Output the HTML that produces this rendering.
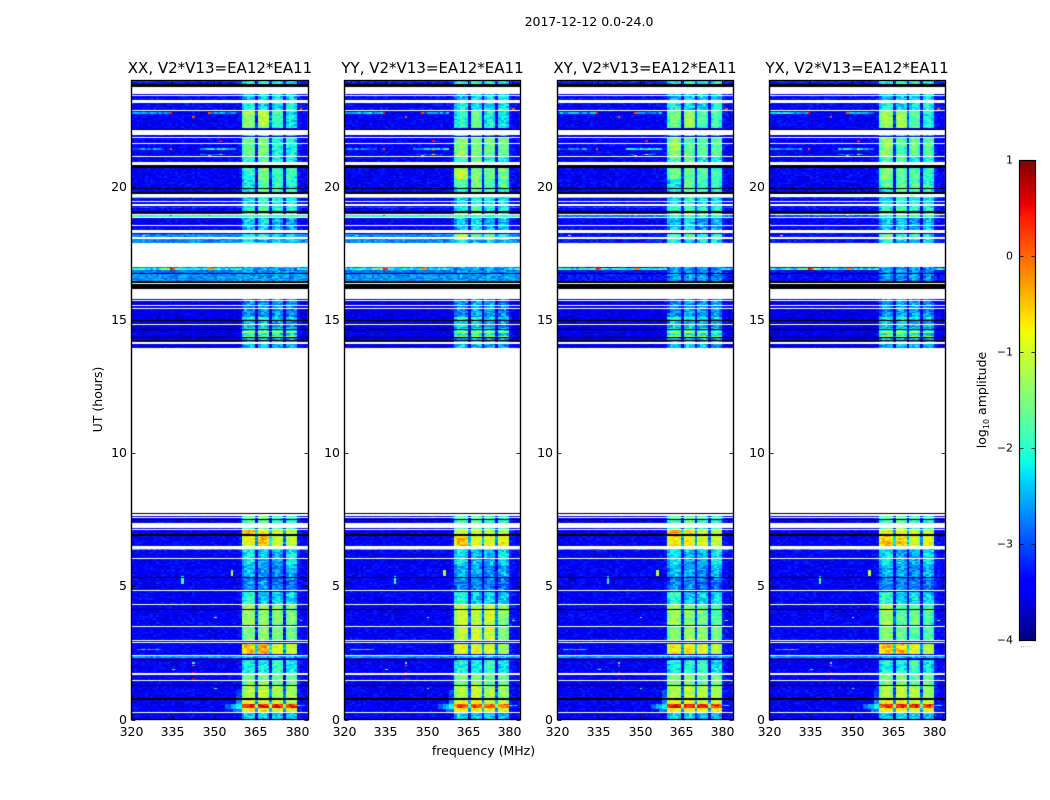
<!DOCTYPE html>
<html>
<head>
<meta charset="utf-8">
<title>2017-12-12 0.0-24.0</title>
<style>
html,body{margin:0;padding:0;background:#fff;width:1050px;height:800px;overflow:hidden}
#stage{position:relative;width:1050px;height:800px;background:#fff}
canvas{position:absolute;display:block}
svg{position:absolute;left:0;top:0}
text{font-family:"DejaVu Sans","Liberation Sans",sans-serif;fill:#000}
</style>
</head>
<body>
<div id="stage">
<svg id="overlay" width="1050" height="800" viewBox="0 0 1050 800">
  <defs><linearGradient id="jet-gradient" x1="0" y1="1" x2="0" y2="0"></linearGradient></defs>
  <text x="589" y="26" font-size="12.5" text-anchor="middle">2017-12-12 0.0-24.0</text>
  <text x="483.5" y="755" font-size="12.5" text-anchor="middle">frequency (MHz)</text>
  <text x="0" y="0" font-size="12.5" text-anchor="middle" transform="translate(102,399.5) rotate(-90)">UT (hours)</text>
  <text x="0" y="0" font-size="12.5" text-anchor="middle" transform="translate(986,400) rotate(-90)">log<tspan font-size="8" dy="3">10</tspan><tspan dy="-3"> amplitude</tspan></text>
  <text x="1026.5" y="647" font-size="6" fill="#888" style="fill:#888" text-anchor="middle">......</text>
</svg>
</div>
<script>
// Panel titles and tick labels
var panelTitles = ["XX, V2*V13=EA12*EA11","YY, V2*V13=EA12*EA11","XY, V2*V13=EA12*EA11","YX, V2*V13=EA12*EA11"];
var frequencyTicks = [320,335,350,365,380];
var hourTicks = [0,5,10,15,20];
var colorbarTicks = [1,0,-1,-2,-3,-4];
var colorbarLabels = ["1","0","\u22121","\u22122","\u22123","\u22124"];

// Rows with no data, in UT hours [low, high]
var blankHours = [[23.49,23.77],[23.41,23.46],[23.17,23.25],[22.87,22.91],[21.97,22.13],[21.83,21.88],[21.63,21.67],[21.11,21.15],[20.81,20.93],[19.62,19.72],[19.42,19.47],[19.27,19.38],[18.97,19.0],[18.84,18.87],[18.55,18.59],[18.27,18.37],[18.06,18.12],[16.99,17.89],[16.34,16.41],[15.80,16.16],[15.74,15.76],[15.52,15.57],[15.44,15.47],[14.84,14.86],[14.12,14.17],[7.74,13.96],[7.65,7.70],[7.58,7.62],[7.19,7.39],[7.12,7.16],[6.42,6.50],[6.03,6.07],[4.81,4.85],[4.31,4.35],[3.49,3.53],[2.97,3.0],[2.87,2.90],[2.39,2.44],[1.69,1.73],[1.46,1.50],[0.23,0.27]];
// Fully flagged rows, in UT hours [low, high]
var flaggedHours = [[23.77,23.85],[22.13,22.19],[20.73,20.81],[19.94,19.98],[19.72,19.81],[19.04,19.08],[16.73,16.77],[16.41,16.46],[16.16,16.34],[14.99,15.01],[14.66,14.68],[14.33,14.37],[14.24,14.27],[7.70,7.74],[7.49,7.53],[6.91,6.95],[5.33,5.37],[4.12,4.16],[2.23,2.29],[1.28,1.31],[0.75,0.79]];

// Off-band log10 amplitude by time [low, high, level]
var defaultBackground = -3.45;
var backgroundLevels = [[23.85,24,-3.3],[22.87,23.41,-3.4],[20.3,20.73,-3.45],[19.62,19.72,-2.0],[19.38,19.42,-1.9],[19.2,19.27,-3.0],[18.87,18.97,-1.9],[17.89,18.27,-2.7],[16.77,16.99,-2.8],[16.46,16.73,-2.65],[14.0,15.8,-3.55],[6.35,6.42,-2.5],[2.29,2.39,-2.6]];
var quietBackgroundXY = [[17.89,18.27,-3.3],[16.46,16.99,-3.3],[18.87,18.97,-2.8]];
var quietBackgroundYX = [[17.89,18.27,-3.35],[16.46,16.99,-3.35],[18.87,18.97,-3.0],[19.38,19.42,-3.0],[19.62,19.72,-3.0],[19.2,19.27,-3.3]];

// In-band log10 amplitude for the four spectral windows [low, high, w1, w2, w3, w4]
var bandLevelsXX = [[23.85,24,-2.2,-2.0,-2.1,-2.2],[23.25,23.5,-2.5,-2.3,-2.3,-2.3],[22.91,23.2,-2.1,-2.3,-2.3,-2.1],[22.19,22.87,-1.4,-1.15,-1.9,-2.2],[21.9,22.13,-2.1,-2.0,-2.3,-2.4],[21.15,21.85,-1.65,-1.5,-2.1,-2.1],[20.81,21.15,-1.9,-1.7,-2.2,-2.1],[20.3,20.73,-2.0,-1.5,-1.9,-1.9],[19.72,20.3,-2.2,-1.7,-1.9,-2.0],[19.27,19.72,-2.3,-2.0,-2.2,-2.2],[18.95,19.27,-2.0,-1.7,-2.0,-2.0],[18.85,18.95,-1.9,-1.8,-1.9,-1.9],[18.37,18.85,-2.4,-2.3,-2.6,-2.5],[18.0,18.27,-2.0,-2.0,-2.2,-2.2],[17.89,18.0,-2.1,-2.5,-2.4,-2.4],[16.2,16.99,-2.6,-2.6,-2.6,-2.7],[15.1,15.8,-2.7,-2.6,-2.6,-2.7],[15.03,15.1,-1.9,-1.9,-2.2,-2.2],[14.72,15.03,-2.4,-2.4,-2.6,-2.6],[14.6,14.72,-2.1,-2.1,-2.2,-2.3],[14.52,14.6,-1.3,-1.2,-1.3,-1.6],[14.4,14.52,-2.1,-2.1,-2.2,-2.3],[14.35,14.4,-1.2,-1.2,-1.1,-1.2],[13.96,14.33,-2.5,-2.4,-2.5,-2.6],[7.12,7.74,-1.8,-1.7,-2.0,-2.0],[6.95,7.12,-0.4,-0.7,-1.0,-1.1],[6.5,6.91,-0.8,-0.5,-1.1,-1.1],[6.35,6.5,-2.0,-2.0,-2.0,-2.0],[5.8,6.35,-2.2,-2.5,-2.5,-2.2],[5.37,5.8,-2.5,-2.6,-2.7,-2.5],[4.85,5.33,-2.7,-2.7,-2.8,-2.8],[4.35,4.81,-2.0,-2.4,-2.3,-2.3],[3.53,4.31,-1.3,-1.4,-1.5,-1.5],[3.0,3.49,-1.5,-1.4,-1.5,-1.6],[2.44,2.87,-0.5,-0.4,-0.9,-1.0],[2.29,2.39,-2.4,-2.4,-2.4,-2.4],[1.73,2.23,-2.1,-2.1,-1.9,-2.2],[1.31,1.69,-1.5,-1.5,-1.7,-1.6],[0.79,1.28,-1.2,-1.1,-1.2,-1.3],[0.6,0.75,-0.9,-0.9,-1.0,-1.1],[0.45,0.6,0.4,0.35,0.35,0.3],[0.27,0.45,-0.8,-0.8,-0.9,-0.9],[0,0.23,-2.3,-2.3,-2.4,-2.4]];
var bandOverridesYY = [[22.19,22.87,-2.0,-1.7,-2.1,-2.2],[21.15,21.85,-1.4,-1.5,-1.6,-1.6],[20.3,20.73,-1.1,-1.5,-1.6,-1.5],[19.98,20.3,-1.7,-1.6,-1.8,-1.7],[18.0,18.27,-1.1,-1.8,-1.5,-1.9],[6.5,6.91,-0.5,-0.9,-0.9,-0.8],[6.95,7.12,-1.0,-1.0,-1.1,-1.2],[3.53,4.31,-1.0,-1.2,-1.0,-1.4],[3.0,3.49,-1.1,-1.1,-1.0,-1.4],[2.44,2.87,-0.9,-0.9,-1.0,-1.3],[0.45,0.6,0.1,0.2,0.0,0.0]];
var bandOverridesXY = [[22.19,22.87,-1.6,-1.3,-1.8,-1.9],[21.15,21.85,-1.4,-1.7,-1.7,-1.7],[20.3,20.73,-1.5,-1.7,-1.7,-1.9],[18.0,18.27,-1.7,-1.8,-1.9,-2.0],[6.5,6.91,-0.7,-0.8,-1.0,-1.1],[3.53,4.31,-1.3,-1.5,-1.5,-1.7],[2.44,2.87,-0.8,-0.7,-0.9,-1.1]];
var bandOverridesYX = [[22.19,22.87,-1.3,-1.2,-1.7,-2.1],[21.15,21.85,-1.4,-1.8,-1.7,-1.8],[20.3,20.73,-1.5,-1.7,-1.7,-1.9],[19.98,20.3,-1.7,-1.8,-1.8,-2.0],[18.0,18.27,-1.6,-1.9,-2.0,-2.2],[6.5,6.91,-0.5,-0.6,-1.0,-0.9],[6.95,7.12,-0.9,-0.9,-1.1,-1.1],[3.53,4.31,-1.3,-1.7,-1.6,-1.9],[3.0,3.49,-1.5,-1.6,-1.7,-1.8],[2.44,2.87,-0.5,-0.5,-1.0,-1.1],[0.45,0.6,0.35,0.35,0.3,0.3]];

// Channel membership and relative response across the 64 1-MHz channels
var channelWindow = [-1,-1,-1,-1,-1,-1,-1,-1,-1,-1,-1,-1,-1,-1,-1,-1,-1,-1,-1,-1,-1,-1,-1,-1,-1,-1,-1,-1,-1,-1,-1,-1,-1,-1,-1,-1,-1,-1,-1,-1,0,0,0,0,0,0,1,1,1,1,1,2,2,2,2,2,3,3,3,3,-1,-1,-1,-1];
var channelResponse = [0,0,0,0,0,0,0,0,0,0,0,0,0,0,0,0,0,0,0,0,0,0,0,0,0,0,0,0,0,0,0,0,0,0,0,0,0,0,0,0.1,-0.3,0,0.05,0.05,-0.1,-1.8,-0.1,0.05,0.05,-0.1,-1.7,-0.1,0.05,0.05,-0.1,-1.75,-0.1,0.05,0.05,-0.15,0.15,0.1,0,0];

// Speckle amplitude table (log10 units)
var speckle = [0.12,-0.18,0.05,0.27,-0.09,-0.24,0.16,0.02,-0.13,0.3,-0.2,0.08,-0.04,0.22,-0.27,0.11,-0.15,0.01,0.19,-0.07,0.25,-0.22,0.04,-0.11,0.14,-0.29,0.09,0.21,-0.02,-0.17,0.28,-0.06,0.13,-0.25,0.03,0.18,-0.12,-0.01,0.24,-0.19,0.07,-0.08,0.29,-0.14,0.1,-0.23,0.17,0,-0.28,0.2,-0.05,0.15,-0.16,0.06,0.26,-0.21,-0.03,0.12,-0.1,0.23,-0.26,0.08,0.16,-0.13,0.02,-0.18,0.27,-0.07,0.19,-0.24,0.05,0.11,-0.15,0.22,-0.02,-0.2,0.09,0.14,-0.27,0.04,0.25,-0.09,-0.16,0.18,-0.04,0.07,-0.22,0.28,-0.12,0.01,0.17,-0.19,0.1,-0.06,0.21,-0.25,0.03];

// Horizontal RFI streaks [hour, freqLow, freqHigh, level]
var streaks = [[22.75,320,334,-2.5],[22.75,348,358,-2.7],[21.4,320,332,-2.8],[21.4,345,358,-2.4],[21.2,345,356,-3.0],[16.9,320,384,-2.1],[16.9,330,338,-1.6],[2.62,322,331,-2.4],[0.5,380,383,-2.3]];
// Time-frequency RFI blocks [hourLow, hourHigh, freqLow, freqHigh, level]
var rfiBlocks = [[5.1,5.4,338,339,-1.9],[5.4,5.6,356,357,-1.2],[0.4,0.6,354,356,-2.9],[0.4,0.6,356,358,-2.5],[0.4,0.6,358,360,-2.1],[0.6,0.75,358,360,-2.7],[0.3,0.4,357,360,-2.8],[0.8,1.1,358,360,-3.0]];
// Isolated RFI spots [hour, freq, level]
var spots = [[22.85,335.5,-0.8],[22.75,334,0.4],[22.75,348.5,0.1],[22.6,342.5,0.1],[22.9,381,0.1],[21.37,352.2,0.5],[21.7,352.2,0.4],[21.2,352.2,-1.2],[21.15,348.5,-0.4],[21.4,334,0.1],[18.93,334,0.4],[18.93,348.5,-0.1],[18.18,324.5,-0.7],[18.05,324.5,-0.7],[16.92,334,0.5],[16.92,335,0.2],[16.92,348.5,-0.2],[16.92,349,-0.2],[5.48,356,-0.8],[3.83,350,-0.7],[3.7,381,-1.6],[2.62,327,0.1],[1.87,335.6,-1.6],[2.14,342,-1.7],[2.03,342.8,0.0],[1.75,342.8,0.5],[1.5,342.8,0.7],[1.16,350,-1.8]];

// Colour scale limits
var colourMin = -4;
var colourMax = 1;

// Axis domains
var frequencyDomain = [320,384];
var hourDomain = [0,24];
var channelCount = 64;
var rowCount = 480;

// Layout (axes frames)
var frames = [{l:131,r:308,title:220},{l:344,r:520,title:432.5},{l:557,r:733,title:645},{l:769,r:945,title:857}];
var plotTop = 80.5, plotBottom = 719.5;
var barLeft = 1019, barRight = 1035, barTop = 160, barBottom = 640;
var SVGNS = "http://www.w3.org/2000/svg";
var stage = document.getElementById("stage");
var overlay = document.getElementById("overlay");

function xScale(frame, f){ return frame.l + (f-frequencyDomain[0])/(frequencyDomain[1]-frequencyDomain[0])*(frame.r-frame.l); }
function yScale(h){ return plotBottom - (h-hourDomain[0])/(hourDomain[1]-hourDomain[0])*(plotBottom-plotTop); }
function barScale(v){ return barBottom - (v-colourMin)/(colourMax-colourMin)*(barBottom-barTop); }

function clamp01(v){ return v<0?0:(v>1?1:v); }
function jetChannel(pts,x){
  for(var i=1;i<pts.length;i++){
    if(x<=pts[i][0]){
      return pts[i-1][1]+(x-pts[i-1][0])/(pts[i][0]-pts[i-1][0])*(pts[i][1]-pts[i-1][1]);
    }
  }
  return pts[pts.length-1][1];
}
var jetR=[[0,0],[0.35,0],[0.66,1],[0.89,1],[1,0.5]];
var jetG=[[0,0],[0.125,0],[0.375,1],[0.64,1],[0.91,0],[1,0]];
var jetB=[[0,0.5],[0.11,1],[0.34,1],[0.65,0],[1,0]];
function jet(level){
  var n=clamp01((level-colourMin)/(colourMax-colourMin));
  return "rgb("+Math.round(255*jetChannel(jetR,n))+","+Math.round(255*jetChannel(jetG,n))+","+Math.round(255*jetChannel(jetB,n))+")";
}

function lookupBackground(panel,h){
  var lists=[null,null,quietBackgroundXY,quietBackgroundYX];
  var i,o=lists[panel];
  if(o){ for(i=0;i<o.length;i++){ if(h>=o[i][0]&&h<o[i][1]) return o[i][2]; } }
  for(i=0;i<backgroundLevels.length;i++){
    if(h>=backgroundLevels[i][0]&&h<backgroundLevels[i][1]) return backgroundLevels[i][2];
  }
  return defaultBackground;
}
function lookupBand(panel,h){
  var lists=[null,bandOverridesYY,bandOverridesXY,bandOverridesYX];
  var i,o=lists[panel];
  if(o){ for(i=0;i<o.length;i++){ if(h>=o[i][0]&&h<o[i][1]) return o[i]; } }
  for(i=0;i<bandLevelsXX.length;i++){
    if(h>=bandLevelsXX[i][0]&&h<bandLevelsXX[i][1]) return bandLevelsXX[i];
  }
  return null;
}
function speck(r,c,panel){
  var rr=r+panel*17, cc=c+panel*5;
  return speckle[(rr*rr*13+cc*cc*29+rr*cc*7+rr*3+cc*5)%speckle.length];
}

function drawPanel(panel){
  var frame=frames[panel];
  var cv=document.createElement("canvas");
  
  
  cv.width=frame.r-frame.l+1;
  cv.height=Math.ceil(plotBottom-plotTop)+1;
  cv.style.left=frame.l+"px";
  cv.style.top=Math.floor(plotTop)+"px";
  stage.insertBefore(cv,overlay);
  var g=cv.getContext("2d");
  var ox=frame.l, oy=Math.floor(plotTop);
  var r,c,i;
  for(r=0;r<rowCount;r++){
    var h0=r*(hourDomain[1]-hourDomain[0])/rowCount;
    var h1=(r+1)*(hourDomain[1]-hourDomain[0])/rowCount;
    var hc=(h0+h1)/2;
    var y0=Math.round(yScale(h1))-oy, y1=Math.round(yScale(h0))-oy;
    if(y1<=y0) continue;
    var bg=lookupBackground(panel,hc);
    var band=lookupBand(panel,hc);
    var rowLevels=new Array(channelCount);
    for(c=0;c<channelCount;c++){
      var w=channelWindow[c];
      var inBand=(w>=0&&band);
      var base=inBand?Math.max(band[2+w]+channelResponse[c],bg):bg+channelResponse[c];
      rowLevels[c]=base+speck(r,c,panel)*(inBand?1.25:0.85);
    }
    for(i=0;i<streaks.length;i++){
      var s=streaks[i];
      if(s[0]>=h0&&s[0]<h1){
        for(c=0;c<channelCount;c++){
          var fc=frequencyDomain[0]+c;
          if(fc>=s[1]&&fc<s[2]&&!(channelWindow[c]>=0)) rowLevels[c]=Math.max(rowLevels[c],s[3]+speck(r,c,panel)*1.5);
        }
      }
    }
    for(i=0;i<rfiBlocks.length;i++){
      var b=rfiBlocks[i];
      if(hc>=b[0]&&hc<b[1]){
        for(c=0;c<channelCount;c++){
          var fb=frequencyDomain[0]+c;
          if(fb>=b[2]&&fb<b[3]) rowLevels[c]=Math.max(rowLevels[c],b[4]+speck(r,c,panel)*0.6);
        }
      }
    }
    for(i=0;i<spots.length;i++){
      var p=spots[i];
      if(p[0]>=h0&&p[0]<h1){
        rowLevels[Math.floor(p[1]-frequencyDomain[0])]=p[2];
      }
    }
    for(c=0;c<channelCount;c++){
      var x0=Math.round(xScale(frame,frequencyDomain[0]+c))-ox;
      var x1=Math.round(xScale(frame,frequencyDomain[0]+c+1))-ox;
      g.fillStyle=jet(rowLevels[c]);
      g.fillRect(x0,y0,x1-x0,y1-y0);
    }
  }
  function band2(list,color){
    g.fillStyle=color;
    for(var k=0;k<list.length;k++){
      var ya=Math.round(yScale(list[k][1]))-oy;
      var yb=Math.round(yScale(list[k][0]))-oy;
      if(yb<=ya) yb=ya+1;
      g.fillRect(0,ya,cv.width,yb-ya);
    }
  }
  band2(blankHours,"#fff");
  band2(flaggedHours,"#000");
}

function svgEl(tag,parent){
  var e=document.createElementNS(SVGNS,tag);
  parent.appendChild(e);
  return e;
}

function drawAxes(panel){
  var frame=frames[panel];
  var g=svgEl("g",overlay);
  
  
  var box=svgEl("rect",g);
  
  
  box.setAttribute("x",frame.l+0.5);
  box.setAttribute("y",plotTop);
  box.setAttribute("width",frame.r-frame.l);
  box.setAttribute("height",plotBottom-plotTop);
  box.setAttribute("fill","none");
  box.setAttribute("stroke","#000");
  box.setAttribute("stroke-width","1.4");
  var title=svgEl("text",g);
  
  
  title.setAttribute("x",frame.title);
  title.setAttribute("y",73);
  title.setAttribute("font-size","15");
  title.setAttribute("text-anchor","middle");
  title.textContent=panelTitles[panel];
  frequencyTicks.forEach(function(f){
    var x=Math.round(xScale(frame,f))+0.5;
    [[plotBottom,plotBottom-4],[plotTop,plotTop+4]].forEach(function(seg){
      var t=svgEl("line",g);
      
      
      t.setAttribute("x1",x); t.setAttribute("x2",x);
      t.setAttribute("y1",seg[0]); t.setAttribute("y2",seg[1]);
      t.setAttribute("stroke","#000"); t.setAttribute("stroke-width","0.8");
    });
    var lab=svgEl("text",g);
    
    
    lab.setAttribute("x",x);
    lab.setAttribute("y",736);
    lab.setAttribute("font-size","12.5");
    lab.setAttribute("text-anchor","middle");
    lab.textContent=String(f);
  });
  hourTicks.forEach(function(hh){
    var y=Math.round(yScale(hh))+0.5;
    [[frame.l+0.5,frame.l+4.5],[frame.r+0.5,frame.r-3.5]].forEach(function(seg){
      var t=svgEl("line",g);
      
      
      t.setAttribute("x1",seg[0]); t.setAttribute("x2",seg[1]);
      t.setAttribute("y1",y); t.setAttribute("y2",y);
      t.setAttribute("stroke","#000"); t.setAttribute("stroke-width","0.8");
    });
    var lab=svgEl("text",g);
    
    
    lab.setAttribute("x",frame.l-4);
    lab.setAttribute("y",y+3.5);
    lab.setAttribute("font-size","12.5");
    lab.setAttribute("text-anchor","end");
    lab.textContent=String(hh);
  });
}

function drawColorbar(){
  var grad=document.getElementById("jet-gradient");
  var steps=[0,0.11,0.125,0.34,0.35,0.375,0.5,0.64,0.65,0.66,0.75,0.89,0.91,1];
  steps.forEach(function(n){
    var st=document.createElementNS(SVGNS,"stop");
    st.setAttribute("offset",n);
    st.setAttribute("stop-color",jet(colourMin+n*(colourMax-colourMin)));
    grad.appendChild(st);
  });
  var g=svgEl("g",overlay);
  
  
  var bar=svgEl("rect",g);
  
  
  bar.setAttribute("x",barLeft+0.5);
  bar.setAttribute("y",barTop+0.5);
  bar.setAttribute("width",barRight-barLeft);
  bar.setAttribute("height",barBottom-barTop);
  bar.setAttribute("fill","url(#jet-gradient)");
  bar.setAttribute("stroke","#000");
  bar.setAttribute("stroke-width","1.2");
  colorbarTicks.forEach(function(v,i){
    var y=Math.round(barScale(v))+0.5;
    [[barLeft+0.5,barLeft+4.5],[barRight+0.5,barRight-3.5]].forEach(function(seg){
      var t=svgEl("line",g);
      
      
      t.setAttribute("x1",seg[0]); t.setAttribute("x2",seg[1]);
      t.setAttribute("y1",y); t.setAttribute("y2",y);
      t.setAttribute("stroke","#000"); t.setAttribute("stroke-width","0.8");
    });
    var lab=svgEl("text",g);
    
    
    lab.setAttribute("x",1013);
    lab.setAttribute("y",y+3);
    lab.setAttribute("font-size","11");
    lab.setAttribute("text-anchor","end");
    lab.textContent=colorbarLabels[i];
  });
}

for(var p=0;p<frames.length;p++){ drawPanel(p); drawAxes(p); }
drawColorbar();
</script>
</body>
</html>
